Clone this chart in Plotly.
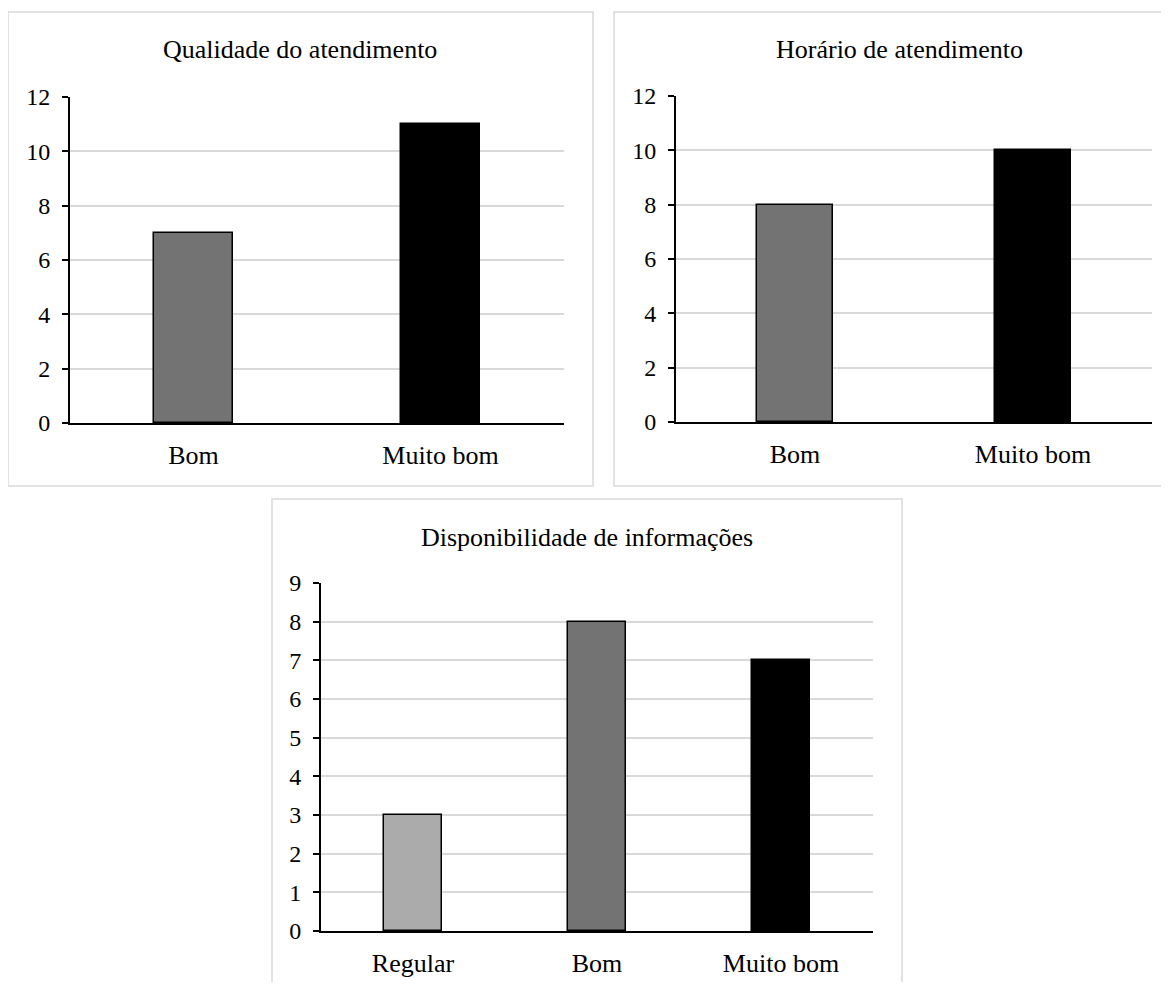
import plotly.graph_objects as go

# page body adds an 8px margin; figure is sized to fit inside the viewport
OFF = 8
W, H = 1169 - 2 * OFF, 990 - 2 * OFF

# ---- data ----
cats_qual = ["Bom", "Muito bom"]
vals_qual = [7, 11]
cats_hor = ["Bom", "Muito bom"]
vals_hor = [8, 10]
cats_disp = ["Regular", "Bom", "Muito bom"]
vals_disp = [3, 8, 7]
titles = ["Qualidade do atendimento", "Horário de atendimento", "Disponibilidade de informações"]
yticks_12 = [0, 2, 4, 6, 8, 10, 12]
yticks_9 = [0, 1, 2, 3, 4, 5, 6, 7, 8, 9]

color_map = {"Regular": "#ababab", "Bom": "#737373", "Muito bom": "#000000"}

FONT = "Liberation Serif, Times New Roman, serif"
GRID = "#d9d9d9"


def px_x(x):
    return (x - OFF) / W


def px_y(y):
    return 1 - (y - OFF) / H


fig = go.Figure()

panels = [
    # cats, vals, axis suffix, x0, x1, ytop, ybot, ymax, ticks
    (cats_qual, vals_qual, "", 70, 564, 97, 423, 12, yticks_12),
    (cats_hor, vals_hor, "2", 676, 1152, 96, 422, 12, yticks_12),
    (cats_disp, vals_disp, "3", 321, 873, 583, 931, 9, yticks_9),
]

for cats, vals, sfx, x0, x1, yt, yb, ymax, ticks in panels:
    fig.add_trace(go.Bar(
        x=cats, y=vals,
        width=0.316,
        marker=dict(color=[color_map[c] for c in cats],
                    line=dict(color="#000000", width=1.5)),
        xaxis="x" + sfx, yaxis="y" + sfx,
        showlegend=False, hoverinfo="x+y",
    ))
    xa = dict(
        domain=[px_x(x0), px_x(x1)],
        anchor="y" + sfx,
        type="category",
        range=[-0.5, len(cats) - 0.5],
        showline=True, linecolor="#000000", linewidth=2,
        ticks="", showgrid=False, zeroline=False,
        tickfont=dict(family=FONT, size=26, color="#000000"),
        ticklabelstandoff=8,
        automargin=False,
        fixedrange=True,
    )
    ya = dict(
        domain=[px_y(yb), px_y(yt)],
        anchor="x" + sfx,
        range=[0, ymax],
        tickvals=ticks,
        showline=True, linecolor="#000000", linewidth=2,
        ticks="outside", ticklen=6, tickwidth=2, tickcolor="#000000",
        showgrid=True, gridcolor=GRID, gridwidth=1.5,
        zeroline=False,
        tickfont=dict(family=FONT, size=24, color="#000000"),
        ticklabelstandoff=7,
        automargin=False,
        fixedrange=True,
    )
    fig.update_layout(**{"xaxis" + sfx: xa, "yaxis" + sfx: ya})

# panel frames
frames = [(8, 12, 593, 486), (614, 12, 1180, 486), (272, 499, 902, 1000)]
for fx0, fy0, fx1, fy1 in frames:
    fig.add_shape(type="rect", xref="paper", yref="paper",
                  x0=px_x(fx0), x1=px_x(fx1), y0=px_y(fy1), y1=px_y(fy0),
                  line=dict(color=GRID, width=1.5), fillcolor="rgba(0,0,0,0)",
                  layer="below")

# titles
title_pos = [(300, 49), (899, 49), (587, 537)]
for t, (tx, ty) in zip(titles, title_pos):
    fig.add_annotation(text=t, xref="paper", yref="paper",
                       x=px_x(tx), y=px_y(ty), xanchor="center", yanchor="middle",
                       showarrow=False,
                       font=dict(family=FONT, size=26, color="#000000"))

fig.update_layout(
    width=W, height=H, autosize=False,
    margin=dict(l=0, r=0, t=0, b=0, pad=0),
    paper_bgcolor="#ffffff", plot_bgcolor="#ffffff",
    bargap=0,
)

fig.write_html("out.html")
